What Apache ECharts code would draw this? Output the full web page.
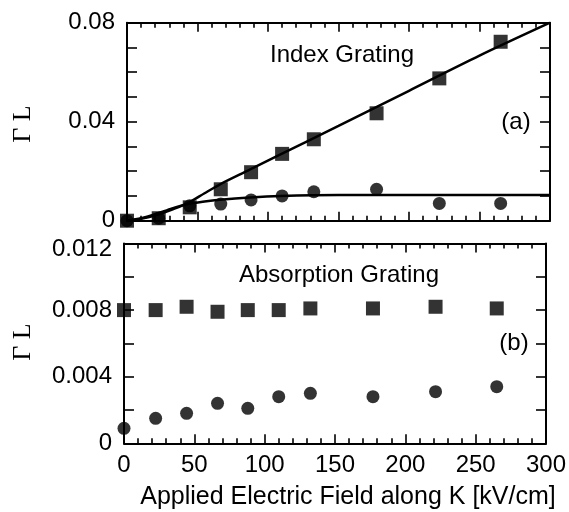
<!DOCTYPE html>
<html>
<head>
<meta charset="utf-8">
<script src="https://cdn.jsdelivr.net/npm/echarts@6/dist/echarts.min.js"></script>
<style>
html,body{margin:0;padding:0;background:#fff;}
#chart{width:569px;height:512px;}
</style>
</head>
<body>
<div id="chart"></div>
<script>
// Applied field (kV/cm) of the measured points
const fieldKV = [0, 22.5, 44.5, 66.5, 88, 110, 132.5, 177, 221.5, 265];
// (a) Index grating
const indexSquares = [0, 0.001, 0.0054, 0.0127, 0.0196, 0.027, 0.0329, 0.0434, 0.0575, 0.0723];
const indexCircles = [0, 0.001, 0.006, 0.0067, 0.0084, 0.0100, 0.0117, 0.0127, 0.0070, 0.0070];
// (a) fitted curves
const fitX = [0, 10, 21, 32, 43.5, 55, 66, 87, 108.5, 150, 200, 250, 300];
const indexSquareFit = [0, 0.0008, 0.0023, 0.0045, 0.0072, 0.0111, 0.0147, 0.0206, 0.0267, 0.0383, 0.0525, 0.0667, 0.0800];
const indexCircleFit = [0, 0.0010, 0.0028, 0.0050, 0.0068, 0.0078, 0.0085, 0.0094, 0.0100, 0.0104, 0.0104, 0.0104, 0.0104];
// (b) Absorption grating
const absSquares = [0.0080, 0.0080, 0.0082, 0.0079, 0.0080, 0.0080, 0.0081, 0.0081, 0.0082, 0.0081];
const absCircles = [0.0009, 0.0015, 0.0018, 0.0024, 0.0021, 0.0028, 0.0030, 0.0028, 0.0031, 0.0034];
// Axis ticks
const xTicks = {min: 0, max: 300, interval: 50};
const yTicksA = {min: 0, max: 0.08, interval: 0.04};
const yTicksB = {min: 0, max: 0.012, interval: 0.004};

const FONT = '"Liberation Sans", Arial, Helvetica, sans-serif';
const INK = '#000';
const LABEL_SIZE = 24;
const pairs = (xs, ys) => xs.map((x, i) => [x, ys[i]]);

function xAxisDef(gridIndex, position, showLabels) {
  return {
    type: 'value', gridIndex, position,
    min: xTicks.min, max: xTicks.max, interval: xTicks.interval,
    axisLine: {show: true, onZero: false, lineStyle: {color: INK, width: 2}},
    axisTick: {show: true, inside: true, length: 9, lineStyle: {color: INK, width: 1.6}},
    minorTick: {show: true, splitNumber: 5, length: 5, lineStyle: {color: INK, width: 1.6}},
    axisLabel: {show: showLabels, color: INK, fontFamily: FONT, fontSize: LABEL_SIZE, margin: 10},
    splitLine: {show: false}, minorSplitLine: {show: false}
  };
}
function yAxisDef(gridIndex, position, t, showLabels, minorSplit, extra) {
  return Object.assign({
    type: 'value', gridIndex, position,
    min: t.min, max: t.max, interval: t.interval,
    axisLine: {show: true, onZero: false, lineStyle: {color: INK, width: 2}},
    axisTick: {show: true, inside: true, length: 10, lineStyle: {color: INK, width: 1.6}},
    minorTick: {show: true, splitNumber: minorSplit, length: 10, lineStyle: {color: INK, width: 1.6}},
    axisLabel: {show: showLabels, color: INK, fontFamily: FONT, fontSize: LABEL_SIZE, margin: 12},
    splitLine: {show: false}, minorSplitLine: {show: false}
  }, extra || {});
}

const chart = echarts.init(document.getElementById('chart'), null, {renderer: 'canvas'});
chart.setOption({
  backgroundColor: '#fff',
  animation: false,
  grid: [
    {left: 127, right: 19, top: 22.7, height: 198},
    {left: 124, right: 21, top: 243.5, height: 199.8}
  ],
  xAxis: [
    xAxisDef(0, 'bottom', false),
    xAxisDef(0, 'top', false),
    xAxisDef(1, 'bottom', true),
    xAxisDef(1, 'top', false)
  ],
  yAxis: [
    yAxisDef(0, 'left', yTicksA, true, 4),
    yAxisDef(0, 'right', yTicksA, false, 4),
    yAxisDef(1, 'left', yTicksB, true, 2, {
      axisLabel: {show: true, color: INK, fontFamily: FONT, fontSize: LABEL_SIZE, margin: 12,
        formatter: function (v) {
          if (Math.abs(v - 0.012) < 1e-9) return '{s|0.012}';
          return String(+v.toFixed(3));
        },
        rich: {s: {fontFamily: FONT, fontSize: LABEL_SIZE, color: INK, padding: [12, 0, 0, 0]}}
      }
    }),
    yAxisDef(1, 'right', yTicksB, false, 2)
  ],
  graphic: [
    {type: 'text', x: 342, y: 55, style: {text: 'Index Grating', fill: INK, font: '24px ' + FONT, textAlign: 'center', textVerticalAlign: 'middle'}},
    {type: 'text', x: 516, y: 122, style: {text: '(a)', fill: INK, font: '24px ' + FONT, textAlign: 'center', textVerticalAlign: 'middle'}},
    {type: 'text', x: 339, y: 275, style: {text: 'Absorption Grating', fill: INK, font: '24px ' + FONT, textAlign: 'center', textVerticalAlign: 'middle'}},
    {type: 'text', x: 514, y: 343, style: {text: '(b)', fill: INK, font: '24px ' + FONT, textAlign: 'center', textVerticalAlign: 'middle'}},
    {type: 'text', x: 348, y: 497, style: {text: 'Applied Electric Field along K [kV/cm]', fill: INK, font: '25px ' + FONT, textAlign: 'center', textVerticalAlign: 'middle'}},
    {type: 'text', x: 23, y: 124, rotation: Math.PI / 2, style: {text: 'Γ L', fill: INK, font: '26px "Liberation Serif", "DejaVu Serif", serif', textAlign: 'center', textVerticalAlign: 'middle'}},
    {type: 'text', x: 23, y: 342, rotation: Math.PI / 2, style: {text: 'Γ L', fill: INK, font: '26px "Liberation Serif", "DejaVu Serif", serif', textAlign: 'center', textVerticalAlign: 'middle'}}
  ],
  series: [
    {type: 'line', xAxisIndex: 0, yAxisIndex: 0, data: pairs(fitX, indexSquareFit), showSymbol: false, smooth: 0.3, lineStyle: {color: INK, width: 2.5}, z: 2, silent: true},
    {type: 'line', xAxisIndex: 0, yAxisIndex: 0, data: pairs(fitX, indexCircleFit), showSymbol: false, smooth: 0.3, lineStyle: {color: INK, width: 2.5}, z: 2, silent: true},
    {type: 'scatter', xAxisIndex: 0, yAxisIndex: 0, data: pairs(fieldKV, indexCircles), symbol: 'circle', symbolSize: 13, itemStyle: {color: INK}, z: 3},
    {type: 'scatter', xAxisIndex: 0, yAxisIndex: 0, data: pairs(fieldKV, indexSquares), symbol: 'rect', symbolSize: 14, itemStyle: {color: INK}, z: 4},
    {type: 'scatter', xAxisIndex: 2, yAxisIndex: 2, data: pairs(fieldKV, absSquares), symbol: 'rect', symbolSize: 14, itemStyle: {color: INK}, z: 4},
    {type: 'scatter', xAxisIndex: 2, yAxisIndex: 2, data: pairs(fieldKV, absCircles), symbol: 'circle', symbolSize: 13, itemStyle: {color: INK}, z: 3}
  ]
});
</script>
</body>
</html>
